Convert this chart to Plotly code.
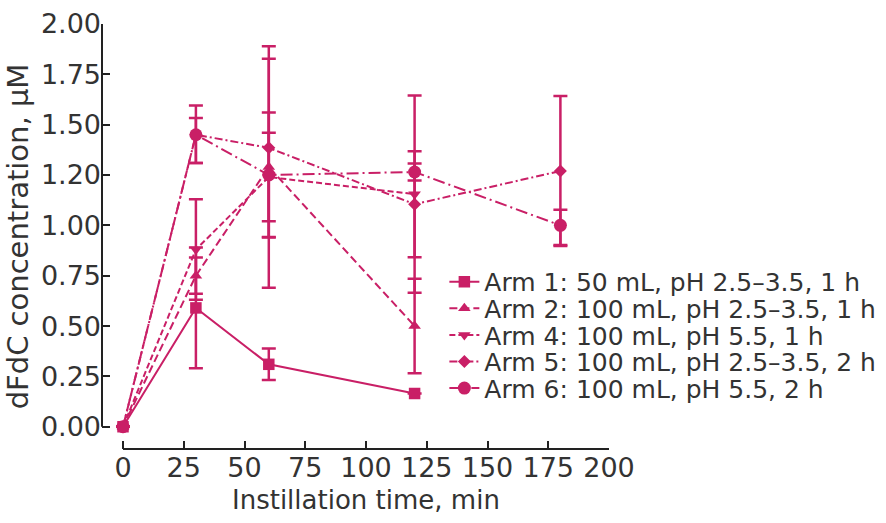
import plotly.graph_objects as go

# ---- data ----
arm1_x = [0, 30, 60, 120]
arm1_y = [0, 0.59, 0.31, 0.165]
arm1_err = [None, 0.30, 0.078, None]

arm2_x = [0, 30, 60, 120]
arm2_y = [0, 0.75, 1.29, 0.50]
arm2_err = [None, 0.09, 0.60, 0.235]

arm4_x = [0, 30, 60, 120]
arm4_y = [0, 0.88, 1.24, 1.155]
arm4_err = [None, 0.25, 0.22, 0.49]

arm5_x = [0, 30, 60, 120, 180]
arm5_y = [0, 1.45, 1.385, 1.105, 1.27]
arm5_err_plus = [None, 0.145, 0.443, 0.263, 0.372]
arm5_err_minus = [None, 0.14, 0.443, 0.263, 0.372]

arm6_x = [0, 30, 60, 120, 180]
arm6_y = [0, 1.45, 1.25, 1.265, 1.0]
arm6_err_plus = [None, 0.083, 0.31, 0.042, 0.077]
arm6_err_minus = [None, 0.14, 0.31, 0.042, 0.098]

names = [
    "Arm 1: 50 mL, pH 2.5\u20133.5, 1 h",
    "Arm 2: 100 mL, pH 2.5\u20133.5, 1 h",
    "Arm 4: 100 mL, pH 5.5, 1 h",
    "Arm 5: 100 mL, pH 2.5\u20133.5, 2 h",
    "Arm 6: 100 mL, pH 5.5, 2 h",
]

y_tickvals = [0, 0.25, 0.5, 0.75, 1.0, 1.25, 1.5, 1.75, 2.0]
y_ticktext = ["0.00", "0.25", "0.50", "0.75", "1.00", "1.20", "1.50", "1.75", "2.00"]
x_tickvals = [0, 25, 50, 75, 100, 125, 150, 175, 200]
x_title = "Instillation time, min"
y_title = "dFdC concentration, \u03bcM"

# ---- style ----
C = "#C91F66"
TXT = "#333333"
FONT = "DejaVu Sans"

series = [
    (arm1_x, arm1_y, arm1_err, arm1_err, "square", 11.5, "solid"),
    (arm2_x, arm2_y, arm2_err, arm2_err, "triangle-up", 11, "8px,4px"),
    (arm4_x, arm4_y, arm4_err, arm4_err, "triangle-down", 11, "6px,3px"),
    (arm5_x, arm5_y, arm5_err_plus, arm5_err_minus, "diamond", 10, "8px,3px,2px,3px"),
    (arm6_x, arm6_y, arm6_err_plus, arm6_err_minus, "circle", 13, "12px,4px,2px,4px"),
]

fig = go.Figure()
legend_names = ["legend", "legend2", "legend3", "legend4", "legend5"]
for i, (x, y, ep, em, sym, ms, dash) in enumerate(series):
    fig.add_trace(go.Scatter(
        x=x, y=y, name=names[i], mode="lines+markers",
        line=dict(color=C, width=2, dash=dash),
        marker=dict(symbol=sym, size=ms, color=C),
        error_y=dict(type="data", array=ep, arrayminus=em, symmetric=False,
                     color=C, thickness=2.5, width=7),
        cliponaxis=False,
        legend=legend_names[i],
    ))

# plot area geometry
W, H = 886, 523
L, R, T, B = 101.7, 886 - 608.6, 23.5, 523 - 449
pw = W - L - R
ph = H - T - B
row_y = [281.7, 308.3, 335.0, 361.7, 388.3]
leg_x = (444.0 - L) / pw

legend_common = dict(
    font=dict(family=FONT, size=25, color=TXT),
    bgcolor="rgba(0,0,0,0)", borderwidth=0,
    xanchor="left", yanchor="middle",
    itemwidth=30, tracegroupgap=0,
)
layout_legends = {}
for i, ln in enumerate(legend_names):
    layout_legends[ln] = dict(x=leg_x, y=(449 - row_y[i]) / ph, **legend_common)

fig.update_layout(
    width=W, height=H,
    margin=dict(l=L, r=R, t=T, b=B, pad=0, autoexpand=False),
    paper_bgcolor="white", plot_bgcolor="white",
    showlegend=True,
    font=dict(family=FONT, size=25, color=TXT),
    **layout_legends,
)

fig.update_xaxes(
    range=[-8.64, 200], tickvals=x_tickvals,
    ticks="inside", ticklen=8, tickwidth=2, tickcolor="#222222",
    showline=False, showgrid=False, zeroline=False,
    tickfont=dict(family=FONT, size=27, color=TXT),
    automargin=False,
)
fig.update_yaxes(
    range=[-0.1106, 2.0], tickvals=y_tickvals, ticktext=y_ticktext,
    ticks="inside", ticklen=8, tickwidth=2, tickcolor="#222222",
    showline=False, showgrid=False, zeroline=False,
    tickfont=dict(family=FONT, size=27, color=TXT),
    title=dict(text=y_title, font=dict(family=FONT, size=29, color=TXT), standoff=3),
    automargin=False,
)

# x-axis title centred on the offset x-axis line
fig.add_annotation(text=x_title, x=100, xref="x", y=(449 - 500) / ph, yref="paper",
                   xanchor="center", yanchor="middle", showarrow=False,
                   font=dict(family=FONT, size=26, color=TXT))

# offset axis lines
fig.add_shape(type="line", xref="paper", yref="y", x0=0, x1=0, y0=0, y1=2.0,
              line=dict(color="#222222", width=2))
fig.add_shape(type="line", xref="x", yref="paper", x0=0, x1=200, y0=0, y1=0,
              line=dict(color="#222222", width=2))

fig.write_html("out.html", config={"displayModeBar": False},
               post_script="document.body.style.margin='0px';")
